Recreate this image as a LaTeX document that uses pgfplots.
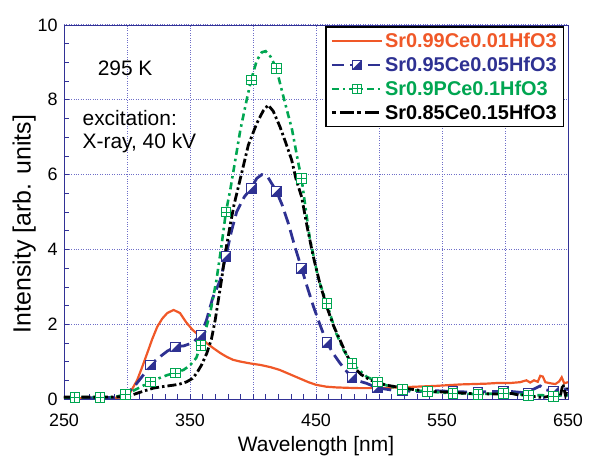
\documentclass[border=0pt]{standalone}
\usepackage{pgfplots}
\pgfplotsset{compat=1.18}
\usepackage{fontspec}
\setmainfont{Liberation Sans}
\definecolor{cRed}{RGB}{240,88,40}
\definecolor{cBlue}{RGB}{46,49,146}
\definecolor{cGreen}{RGB}{0,166,81}
\definecolor{cAxis}{RGB}{50,50,150}
\definecolor{cGrid}{RGB}{110,110,200}
\pgfdeclareplotmark{halfsq}{%
  \pgfpathrectangle{\pgfpoint{-\pgfplotmarksize}{-\pgfplotmarksize}}{\pgfpoint{2\pgfplotmarksize}{2\pgfplotmarksize}}%
  \pgfsetfillcolor{white}\pgfusepath{fill,stroke}%
  \pgfpathmoveto{\pgfpoint{-\pgfplotmarksize}{-\pgfplotmarksize}}%
  \pgfpathlineto{\pgfpoint{\pgfplotmarksize}{-\pgfplotmarksize}}%
  \pgfpathlineto{\pgfpoint{\pgfplotmarksize}{\pgfplotmarksize}}%
  \pgfpathclose
  \pgfsetfillcolor{cBlue}\pgfusepath{fill}%
}
\pgfdeclareplotmark{gridsq}{%
  \pgfpathrectangle{\pgfpoint{-\pgfplotmarksize}{-\pgfplotmarksize}}{\pgfpoint{2\pgfplotmarksize}{2\pgfplotmarksize}}%
  \pgfsetfillcolor{white}\pgfusepath{fill,stroke}%
  \pgfpathmoveto{\pgfpoint{0pt}{-\pgfplotmarksize}}\pgfpathlineto{\pgfpoint{0pt}{\pgfplotmarksize}}%
  \pgfpathmoveto{\pgfpoint{-\pgfplotmarksize}{0pt}}\pgfpathlineto{\pgfpoint{\pgfplotmarksize}{0pt}}%
  \pgfusepath{stroke}%
}
\begin{document}
\begin{tikzpicture}
\begin{axis}[
  scale only axis, width=504bp, height=374bp,
  xmin=250, xmax=650, ymin=0, ymax=10,
  xtick={250,300,...,650},
  xticklabels={250,,350,,450,,550,,650},
  ytick={0,2,...,10},
  minor x tick num=4, minor y tick num=3,
  tick pos=left, tick align=inside,
  major tick length=5bp, minor tick length=5bp,
  every tick/.style={cAxis, line width=0.6pt},
  axis line style={cAxis, line width=0.8pt},
  grid=major,
  major grid style={cGrid, dotted, line width=1pt},
  /pgf/number format/assume math mode=true,
  ticklabel style={font=\fontsize{18}{18}\selectfont},
  xticklabel style={yshift=-11bp},
  yticklabel style={xshift=-3bp},
  xlabel={Wavelength [nm]},
  ylabel={Intensity [arb. units]},
  xlabel style={font=\fontsize{21}{21}\selectfont, yshift=-3bp},
  ylabel style={font=\fontsize{25}{25}\selectfont, yshift=-5bp, xshift=-12bp},
  legend cell align=left,
  legend style={at={(0.993,0.997)}, anchor=north east, draw=black, line width=1.6pt,
    fill=white, font=\bfseries\fontsize{20}{22}\selectfont, inner xsep=5bp, inner ysep=4bp,
    row sep=4bp},
  legend image code/.code={\draw[mark repeat=2,mark phase=2,#1] plot coordinates {(0cm,0cm) (0.88cm,0cm) (1.76cm,0cm)};},
]
% Red
\addplot[cRed, line width=2.2pt, forget plot] coordinates {
(250,0.02)(260,0.02)(270,0.02)(280,0.03)(290,0.03)(298,0.05)(303,0.2)(308,0.5)(312,0.85)(316,1.22)
(320,1.6)(324,1.93)(328,2.15)(332,2.3)(337,2.38)(342,2.3)(347,2.05)(352,1.85)(358,1.67)(363,1.5)
(368.5,1.36)(374,1.23)(379,1.13)(384,1.05)(390,1.0)(398,0.95)(406,0.91)(414,0.85)(421,0.78)(428,0.68)
(437,0.55)(444,0.45)(450,0.38)(458,0.33)(466,0.31)(474,0.30)(485,0.29)(500,0.29)(515,0.31)(530,0.33)
(545,0.35)(555,0.37)(565,0.39)(575,0.40)(585,0.41)(595,0.43)(605,0.43)(612,0.45)(617,0.5)(620,0.44)
(623,0.5)(626,0.46)(628,0.62)(630,0.6)(632,0.45)(636,0.42)(640,0.4)(643,0.47)(645,0.58)(647,0.42)(650,0.45)};
% Blue
\addplot[cBlue, line width=2.8pt, dash pattern=on 13bp off 6bp, forget plot] coordinates {
(250,0.03)(290,0.04)(298.5,0.12)(305,0.3)(312,0.6)(318.5,0.91)(325,1.1)(332,1.28)(338.5,1.40)(345,1.42)
(352,1.5)(358.5,1.71)(363,2.1)(368,2.7)(374,3.18)(378.5,3.82)(383,4.5)(387,5.0)(393,5.4)(398.5,5.63)
(403,5.9)(407,6.0)(412,5.92)(418.5,5.56)(423,5.2)(428,4.7)(433,4.1)(438.5,3.5)(443,3.0)(448,2.47)
(453,2.0)(458.5,1.51)(464,1.2)(469,0.96)(474,0.75)(478.5,0.58)(485,0.47)(490,0.42)(498.5,0.30)(510,0.24)
(518.5,0.22)(530,0.2)(545,0.22)(560,0.2)(575,0.18)(590,0.2)(605,0.2)(615,0.17)(622,0.25)(628,0.35)
(632,0.25)(638.5,0.2)(644,0.3)(650,0.25)};
% Green
\addplot[cGreen, line width=2.6pt, dash pattern=on 7bp off 4bp on 2.5bp off 4bp, forget plot] coordinates {
(250,0.04)(270,0.05)(290,0.05)(298.5,0.12)(305,0.22)(312,0.34)(318.5,0.46)(325,0.55)(332,0.64)(338.5,0.70)
(345,0.78)(350,0.9)(355,1.1)(358.5,1.43)(362,1.8)(366,2.29)(371,3.18)(375,4.1)(378.5,5.0)(382,5.6)
(385,6.2)(390,7.2)(395,8.0)(398.5,8.53)(403,9.05)(407,9.27)(410,9.3)(414,9.15)(418.5,8.84)(424,8.1)
(431,7.2)(436,6.3)(438.5,5.9)(445,4.3)(452,3.2)(458.5,2.56)(466,1.76)(472,1.3)(478.5,0.95)(490,0.6)
(498.5,0.46)(508,0.34)(518.5,0.26)(538.5,0.2)(558.5,0.15)(578.5,0.13)(598.5,0.15)(610,0.13)(618.5,0.1)
(630,0.1)(638.5,0.07)(645,0.1)(650,0.1)};
% Black
\addplot[black, line width=2.8pt, dash pattern=on 9bp off 3bp on 2.5bp off 3bp, forget plot] coordinates {
(250,0.05)(280,0.05)(300,0.06)(307.7,0.15)(314,0.22)(320.9,0.29)(328,0.33)(336.8,0.37)(342,0.4)(347.4,0.46)
(352,0.55)(355.3,0.69)(359,0.9)(363.3,1.22)(367,1.6)(370,2.11)(375,3.18)(378,3.9)(381.7,4.61)(385,5.2)
(390,5.9)(396.3,6.79)(403,7.37)(408,7.7)(412,7.86)(416,7.7)(421.4,7.28)(426,6.85)(430.7,6.39)(434,5.9)
(438.6,5.40)(443,4.6)(447.9,3.80)(453,3.1)(458.5,2.47)(464,1.95)(469,1.58)(474,1.2)(479.6,0.86)(486,0.65)
(492.9,0.51)(500,0.42)(506,0.37)(518,0.3)(530,0.24)(543,0.2)(556,0.18)(570,0.15)(583,0.14)(596,0.13)
(605,0.15)(612,0.1)(618,0.12)(624,0.06)(630,0.04)(636,0.08)(640,0.03)(644,0.1)(646,0.4)(648,0.1)(650,0.3)};
% Blue markers
\addplot[only marks, mark=halfsq, mark size=4.8bp, mark options={draw=cBlue, line width=0.6pt}, forget plot] coordinates {
(258.5,0.03)(278.5,0.03)(298.5,0.12)(318.5,0.91)(338.5,1.40)(358.5,1.71)(378.5,3.82)(398.5,5.63)(418.5,5.56)
(438.5,3.50)(458.5,1.51)(478.5,0.58)(498.5,0.30)(518.5,0.22)(538.5,0.2)(558.5,0.2)(578.5,0.18)(598.5,0.2)
(618.5,0.17)(638.5,0.2)};
% Green markers
\addplot[only marks, mark=gridsq, mark size=4.8bp, mark options={draw=cGreen, line width=0.6pt}, forget plot] coordinates {
(258.5,0.05)(278.5,0.05)(298.5,0.12)(318.5,0.46)(338.5,0.70)(358.5,1.43)(378.5,5.0)(398.5,8.53)(418.5,8.84)
(438.5,5.90)(458.5,2.56)(478.5,0.95)(498.5,0.46)(518.5,0.26)(538.5,0.2)(558.5,0.15)(578.5,0.13)(598.5,0.15)
(618.5,0.1)(638.5,0.07)};
% Legend
\addlegendimage{cRed, line width=2.4pt}
\addlegendentry{\textcolor{cRed}{Sr0.99Ce0.01HfO3}}
\addlegendimage{cBlue, line width=2.4pt, dash pattern=on 12bp off 6bp, mark=halfsq, mark size=4.5bp, mark options={draw=cBlue, line width=0.6pt, solid}}
\addlegendentry{\textcolor{cBlue}{Sr0.95Ce0.05HfO3}}
\addlegendimage{cGreen, line width=2.4pt, dash pattern=on 7bp off 4bp on 2.5bp off 4bp, mark=gridsq, mark size=4.5bp, mark options={draw=cGreen, line width=0.6pt, solid}}
\addlegendentry{\textcolor{cGreen}{Sr0.9PCe0.1HfO3}}
\addlegendimage{black, line width=2.4pt, dash pattern=on 4bp off 4bp on 14bp off 3bp}
\addlegendentry{Sr0.85Ce0.15HfO3}
\node[anchor=center, font=\fontsize{21}{21}\selectfont] at (axis cs:298.5,8.85) {295 K};
\node[anchor=west, font=\fontsize{21}{21}\selectfont] at (axis cs:262,7.51) {excitation:};
\node[anchor=west, font=\fontsize{21}{21}\selectfont] at (axis cs:262,6.84) {X-ray, 40 kV};
\end{axis}
\pgfresetboundingbox
\path[use as bounding box] (-64bp,-60bp) rectangle (526bp,399bp);
\end{tikzpicture}
\end{document}
